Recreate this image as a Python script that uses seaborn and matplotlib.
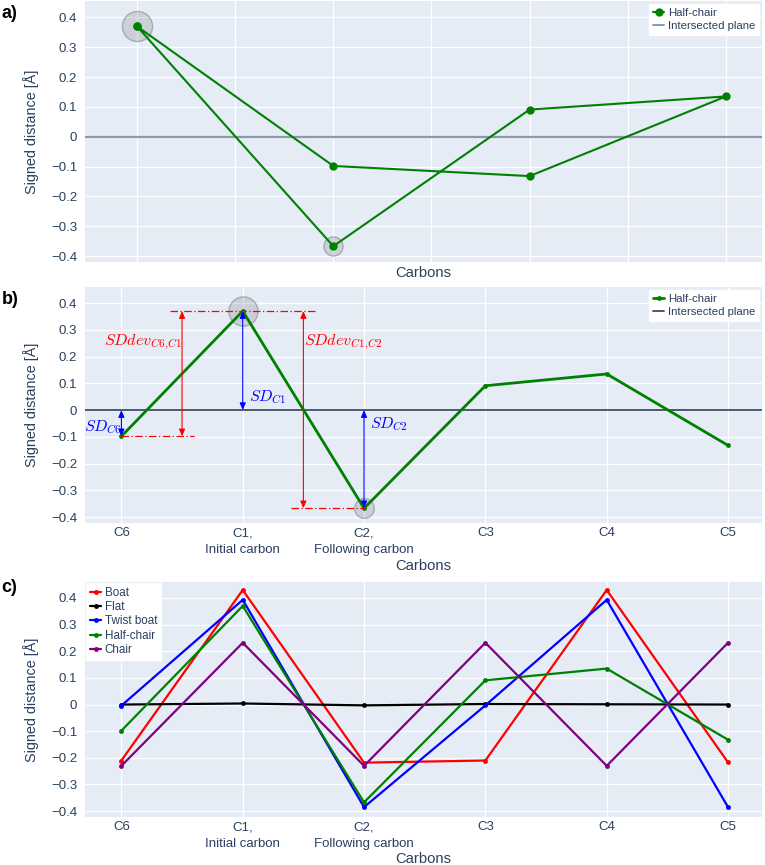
import numpy as np
import pandas as pd
import matplotlib.pyplot as plt
import seaborn as sns
from matplotlib.lines import Line2D

# Signed distances of each ring carbon to the intersected plane [Å]
carbons = ["C6", "C1", "C2", "C3", "C4", "C5"]
tick_labels = ["C6", "C1,\nInitial carbon", "C2,\nFollowing carbon", "C3", "C4", "C5"]
boat = [-0.21, 0.43, -0.218, -0.21, 0.43, -0.217]
flat = [0.0, 0.004, -0.003, 0.002, 0.001, 0.0]
twist_boat = [-0.004, 0.393, -0.385, -0.003, 0.393, -0.385]
half_chair = [-0.098, 0.37, -0.367, 0.091, 0.135, -0.132]
chair = [-0.23, 0.232, -0.23, 0.232, -0.23, 0.232]

# panel a: ring walked C1 -> C6 -> C5 -> C4 -> C3 -> C2 -> C1, projected on 4 columns
ring_order = ["C1", "C6", "C5", "C4", "C3", "C2", "C1"]
ring_x = [0, 1, 2, 3, 2, 1, 0]

conformers = {"Boat": boat, "Flat": flat, "Twist boat": twist_boat,
              "Half-chair": half_chair, "Chair": chair}
palette = {"Boat": "red", "Flat": "black", "Twist boat": "blue",
           "Half-chair": "green", "Chair": "purple"}

TXT = "#2a3f5f"
PLANE_A = "#8d98ab"
PLANE_B = "#4c5a72"

sns.set_theme(style="darkgrid", rc={
    "axes.facecolor": "#E5ECF6",
    "grid.color": "white",
    "grid.linewidth": 0.9,
    "axes.edgecolor": "#E5ECF6",
    "xtick.color": TXT,
    "ytick.color": TXT,
    "axes.labelcolor": TXT,
    "text.color": TXT,
    "mathtext.fontset": "cm",
})
plt.rcParams["font.family"] = ["Liberation Sans", "DejaVu Sans"]

W, H = 765, 865
TICK_FS = 9.5


def box(top, bottom, left=85, right=762):
    return [left / W, 1 - bottom / H, (right - left) / W, (bottom - top) / H]


fig = plt.figure(figsize=(W / 100, H / 100), dpi=100)
ax_a = fig.add_axes(box(1, 262))
ax_b = fig.add_axes(box(287, 523))
ax_c = fig.add_axes(box(582, 817))

hc = dict(zip(carbons, half_chair))
xpos = {c: i for i, c in enumerate(carbons)}
ring_fill = (0.5, 0.5, 0.5, 0.25)
ring_edge = (0.5, 0.5, 0.5, 0.55)

# ---------- a) ----------
ring_df = pd.DataFrame({"x": ring_x, "y": [hc[c] for c in ring_order]})
ax_a.axhline(0, color=PLANE_A, lw=1.6, zorder=2)
sns.scatterplot(x=[ring_x[0]], y=[hc["C1"]], s=470, ax=ax_a, zorder=3,
                facecolor=ring_fill, edgecolor=ring_edge, linewidth=1)
sns.scatterplot(x=[ring_x[-2]], y=[hc["C2"]], s=190, ax=ax_a, zorder=3,
                facecolor=ring_fill, edgecolor=ring_edge, linewidth=1)
sns.lineplot(data=ring_df, x="x", y="y", sort=False, estimator=None, color="green",
             lw=1.5, marker="o", markersize=6, markeredgewidth=0, ax=ax_a, zorder=4)
ax_a.set_xlim(-0.265, 3.184)
ax_a.set_xticks(np.arange(0, 3.01, 0.5))
ax_a.set_xticklabels([])
ax_a.set_ylim(-0.42, 0.455)

# ---------- b) ----------
b_df = pd.DataFrame({"x": range(len(carbons)), "y": half_chair})
ax_b.axhline(0, color=PLANE_B, lw=1.4, zorder=2)
sns.scatterplot(x=[xpos["C1"]], y=[hc["C1"]], s=440, ax=ax_b, zorder=3,
                facecolor=ring_fill, edgecolor=ring_edge, linewidth=1)
sns.scatterplot(x=[xpos["C2"]], y=[hc["C2"]], s=200, ax=ax_b, zorder=3,
                facecolor=ring_fill, edgecolor=ring_edge, linewidth=1)
sns.lineplot(data=b_df, x="x", y="y", sort=False, estimator=None, color="green",
             lw=2.0, marker="o", markersize=3.5, markeredgewidth=0, ax=ax_b, zorder=4)

# red deviation guides + arrows
red_kw = dict(color="red", lw=0.9, ls=(0, (6, 2, 1, 2)), zorder=5)
ax_b.plot([0.4, 1.6], [hc["C1"]] * 2, **red_kw)
ax_b.plot([0.0, 0.6], [hc["C6"]] * 2, **red_kw)
ax_b.plot([1.4, 2.0], [hc["C2"]] * 2, **red_kw)


def arrow(ax, x, y0, y1, color):
    ax.annotate("", xy=(x, y1), xytext=(x, y0), zorder=6,
                arrowprops=dict(arrowstyle="<|-|>,head_length=0.35,head_width=0.15",
                                color=color, lw=0.8, shrinkA=0, shrinkB=0))


arrow(ax_b, 0.5, hc["C6"], hc["C1"], "red")
arrow(ax_b, 1.5, hc["C1"], hc["C2"], "red")
arrow(ax_b, xpos["C6"], 0, hc["C6"], "blue")
arrow(ax_b, xpos["C1"], 0, hc["C1"], "blue")
arrow(ax_b, xpos["C2"], 0, hc["C2"], "blue")

ax_b.text(0.18, 0.254, r"$SDdev_{C6{,}C1}$", color="red", fontsize=11.5, ha="center", va="center")
ax_b.text(1.83, 0.254, r"$SDdev_{C1{,}C2}$", color="red", fontsize=11.5, ha="center", va="center")
ax_b.text(-0.15, -0.064, r"$SD_{C6}$", color="blue", fontsize=11.5, ha="center", va="center")
ax_b.text(1.05, 0.049, r"$SD_{C1}$", color="blue", fontsize=11.5, ha="left", va="center")
ax_b.text(2.05, -0.052, r"$SD_{C2}$", color="blue", fontsize=11.5, ha="left", va="center")

# ---------- c) ----------
long_df = pd.DataFrame([
    {"x": i, "y": v, "conformer": name}
    for name, vals in conformers.items() for i, v in enumerate(vals)
])
sns.lineplot(data=long_df, x="x", y="y", hue="conformer", palette=palette,
             sort=False, estimator=None, lw=1.6, marker="o", markersize=3.5,
             markeredgewidth=0, ax=ax_c, legend=False, zorder=4)

for ax in (ax_b, ax_c):
    ax.set_xlim(-0.3, 5.28)
    ax.set_xticks(range(len(carbons)))
    ax.set_xticklabels(tick_labels, fontsize=TICK_FS, linespacing=1.55)
    ax.set_ylim(-0.422, 0.46)

for ax, ytxt in ((ax_a, 273), (ax_b, 566), (ax_c, 859)):
    ax.set_yticks(np.arange(-0.4, 0.41, 0.1))
    ax.set_yticklabels(["\u22120.4", "\u22120.3", "\u22120.2", "\u22120.1", "0",
                        "0.1", "0.2", "0.3", "0.4"], fontsize=TICK_FS)
    ax.tick_params(length=0, pad=5.5)
    ax.tick_params(axis="x", pad=3)
    ax.set_ylabel("Signed distance [Å]", fontsize=10.4)
    ax.yaxis.set_label_coords(-0.068, 0.5)
    ax.set_xlabel("Carbons", fontsize=10.6, va="center")
    pos = ax.get_position()
    ax.xaxis.set_label_coords(0.5, ((1 - ytxt / H) - pos.y0) / pos.height)
    ax.grid(True, color="white", lw=0.9)
    for s in ax.spines.values():
        s.set_visible(False)

# legends
for ax, plane_col, msize, lw in ((ax_a, PLANE_A, 6, 1.5), (ax_b, PLANE_B, 3.5, 2.0)):
    handles = [Line2D([], [], color="green", marker="o", markersize=msize, lw=lw, markeredgewidth=0),
               Line2D([], [], color=plane_col, lw=1.4)]
    ax.legend(handles, ["Half-chair", "Intersected plane"], loc="upper right",
              fontsize=8.2, frameon=True, facecolor="white", edgecolor="white",
              framealpha=1, fancybox=False, borderaxespad=0.25, borderpad=0.35,
              handlelength=1.0, handletextpad=0.3, labelspacing=0.3)

c_handles = [Line2D([], [], color=palette[n], marker="o", markersize=3.5, lw=1.6,
                    markeredgewidth=0) for n in conformers]
ax_c.legend(c_handles, list(conformers), loc="upper left", fontsize=8.4, frameon=True,
            facecolor="white", edgecolor="white", framealpha=1, fancybox=False,
            borderaxespad=0.1, borderpad=0.3, handlelength=1.0, handletextpad=0.3,
            labelspacing=0.2)

for lab, ytop in (("a)", 14), ("b)", 300), ("c)", 588)):
    fig.text(0.002, 1 - ytop / H, lab, fontsize=13, fontweight="bold", color="black",
             ha="left", va="center")

fig.savefig("out.png", dpi=100)
